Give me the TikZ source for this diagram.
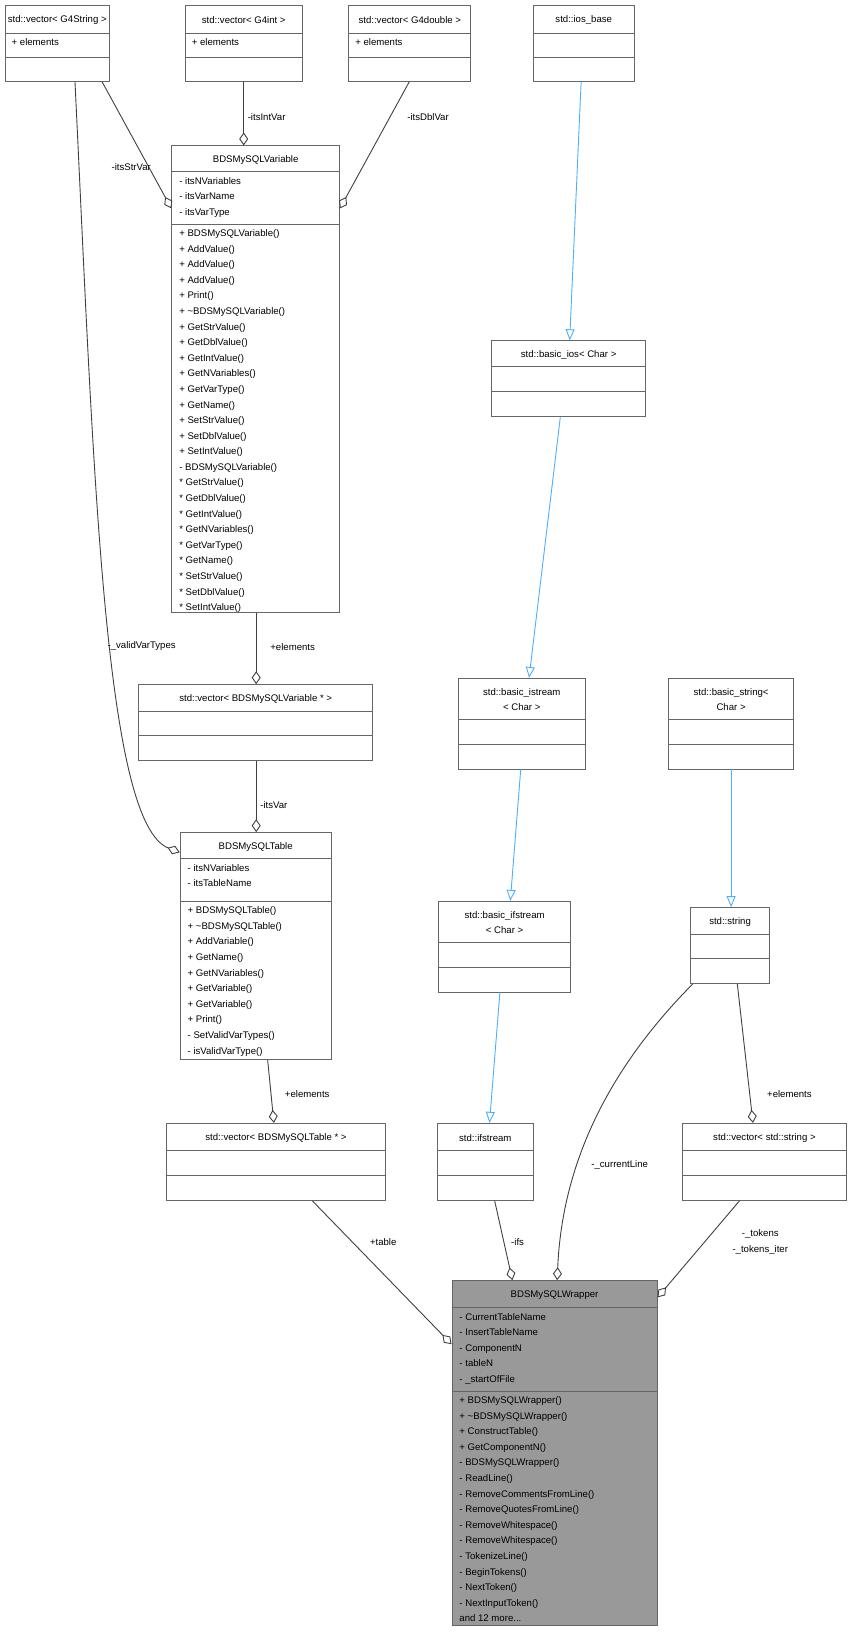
\documentclass[tikz,border=0pt]{standalone}
\usepackage{fontspec}
\setmainfont{Liberation Sans}
\usetikzlibrary{arrows.meta,fit}
\tikzset{x=1.0415pt,y=-1.0421pt,
 box/.style={draw=black!60,line width=0.9pt,inner sep=0pt},
 txt/.style={font=\fontsize{9.6}{15.6}\selectfont,inner sep=0pt},
 lst/.style={txt,align=left,anchor=north west},
 agg/.style={draw=black!75,line width=0.9pt,-{Diamond[open,length=13pt,width=9pt]}},
 inh/.style={draw=blue!45!cyan!70,line width=0.9pt,-{Triangle[open,length=11pt,width=9pt]}},
 lbl/.style={txt,fill=none}}
\newcommand\cls[9]{%
 \coordinate (#1a) at (#2,#3); \coordinate (#1b) at (#4,#7);
 \node[box,fill=#9,fit=(#1a)(#1b)] (#1) {};
 \draw[black!60,line width=0.9pt] (#2,#5)--(#4,#5) (#2,#6)--(#4,#6);
 \node[txt,align=center] (#1t) at ({(#2+#4)/2},{(#3+#5)/2+1}) {#8};}
\begin{document}
\begin{tikzpicture}
\useasboundingbox (0,0) rectangle (820,1570);
\cls{vs}{5}{5}{105}{32}{55}{78}{std::vector< G4String >}{white}
\node[lst] at (11,37) {+ elements};
\cls{vi}{178}{5}{290}{32}{55}{78}{std::vector< G4int >}{white}
\node[lst] at (184,37) {+ elements};
\cls{vd}{335}{5}{452}{32}{55}{78}{std::vector< G4double >}{white}
\node[lst] at (341,37) {+ elements};
\cls{ib}{512}{5}{609}{32}{55}{78}{std::ios\_base}{white}
\cls{var}{165}{140}{326}{165}{215}{588}{BDSMySQLVariable}{white}
\node[lst] at (172,170) {- itsNVariables\\- itsVarName\\- itsVarType};
\node[lst] at (172,220) {+ BDSMySQLVariable()\\+ AddValue()\\+ AddValue()\\+ AddValue()\\+ Print()\\+ \textasciitilde BDSMySQLVariable()\\+ GetStrValue()\\+ GetDblValue()\\+ GetIntValue()\\+ GetNVariables()\\+ GetVarType()\\+ GetName()\\+ SetStrValue()\\+ SetDblValue()\\+ SetIntValue()\\- BDSMySQLVariable()\\* GetStrValue()\\* GetDblValue()\\* GetIntValue()\\* GetNVariables()\\* GetVarType()\\* GetName()\\* SetStrValue()\\* SetDblValue()\\* SetIntValue()};
\cls{bios}{472}{327}{620}{352}{376}{400}{std::basic\_ios< Char >}{white}
\cls{vv}{133}{657}{358}{683}{706}{730}{std::vector< BDSMySQLVariable * >}{white}
\cls{bis}{440}{651}{562}{690}{714}{738}{std::basic\_istream\\< Char >}{white}
\cls{bstr}{642}{651}{762}{690}{714}{738}{std::basic\_string<\\Char >}{white}
\cls{tab}{173}{799}{318}{824}{865}{1017}{BDSMySQLTable}{white}
\node[lst] at (180,829) {- itsNVariables\\- itsTableName};
\node[lst] at (180,870) {+ BDSMySQLTable()\\+ \textasciitilde BDSMySQLTable()\\+ AddVariable()\\+ GetName()\\+ GetNVariables()\\+ GetVariable()\\+ GetVariable()\\+ Print()\\- SetValidVarTypes()\\- isValidVarType()};
\cls{bif}{421}{865}{548}{904}{928}{952}{std::basic\_ifstream\\< Char >}{white}
\cls{str}{663}{871}{739}{897}{920}{944}{std::string}{white}
\cls{vt}{160}{1078}{370}{1104}{1128}{1152}{std::vector< BDSMySQLTable * >}{white}
\cls{ifs}{420}{1078}{512}{1104}{1128}{1152}{std::ifstream}{white}
\cls{vstr}{655}{1078}{813}{1104}{1128}{1152}{std::vector< std::string >}{white}
\cls{w}{434}{1229}{631}{1255}{1335}{1560}{BDSMySQLWrapper}{black!40}
\node[lst] at (441,1260) {- CurrentTableName\\- InsertTableName\\- ComponentN\\- tableN\\- \_startOfFile};
\node[lst] at (441,1340) {+ BDSMySQLWrapper()\\+ \textasciitilde BDSMySQLWrapper()\\+ ConstructTable()\\+ GetComponentN()\\- BDSMySQLWrapper()\\- ReadLine()\\- RemoveCommentsFromLine()\\- RemoveQuotesFromLine()\\- RemoveWhitespace()\\- RemoveWhitespace()\\- TokenizeLine()\\- BeginTokens()\\- NextToken()\\- NextInputToken()\\and 12 more...};
% connectors
\draw[agg] (vs.south -| 98,0) -- (var.north west |- 0,200);
\node[lbl] at (126,160) {-itsStrVar};
\draw[agg] (vi.south) -- (var.north -| vi.south);
\node[lbl] at (256,112) {-itsIntVar};
\draw[agg] (vd.south -| 393,0) -- (var.north east |- 0,200);
\node[lbl] at (411,112) {-itsDblVar};
\draw[inh] (ib.south -| 558,0) -- (bios.north -| 547,0);
\draw[inh] (bios.south -| 538,0) -- (bis.north -| 508,0);
\draw[inh] (bis.south -| 500,0) -- (bif.north -| 490,0);
\draw[inh] (bif.south -| 480,0) -- (ifs.north -| 470,0);
\draw[inh] (bstr.south -| 702,0) -- (str.north -| 702,0);
\draw[agg] (var.south -| 246,0) -- (vv.north -| 246,0);
\node[lbl] at (281,621) {+elements};
\draw[agg] (vv.south -| 246,0) -- (tab.north -| 246,0);
\node[lbl] at (263,773) {-itsVar};
\draw[agg] (vs.south -| 72,0) .. controls (90,450) and (100,790) .. (tab.west |- 0,818);
\node[lbl] at (136,620) {-\_validVarTypes};
\draw[agg] (tab.south -| 257,0) -- (vt.north -| 263,0);
\node[lbl] at (295,1050) {+elements};
\draw[agg] (vt.south -| 300,0) -- (w.west |- 0,1290);
\node[lbl] at (368,1192) {+table};
\draw[agg] (ifs.south -| 475,0) -- (w.north -| 492,0);
\node[lbl] at (497,1192) {-ifs};
\draw[agg] (str.south -| 665,0) .. controls (590,1020) and (540,1110) .. (w.north -| 535,0);
\node[lbl] at (595,1118) {-\_currentLine};
\draw[agg] (str.south -| 708,0) -- (vstr.north -| 723,0);
\node[lbl] at (758,1050) {+elements};
\draw[agg] (vstr.south -| 710,0) -- (w.east |- 0,1245);
\node[txt,align=center] at (730,1192) {-\_tokens\\-\_tokens\_iter};
\end{tikzpicture}
\end{document}
